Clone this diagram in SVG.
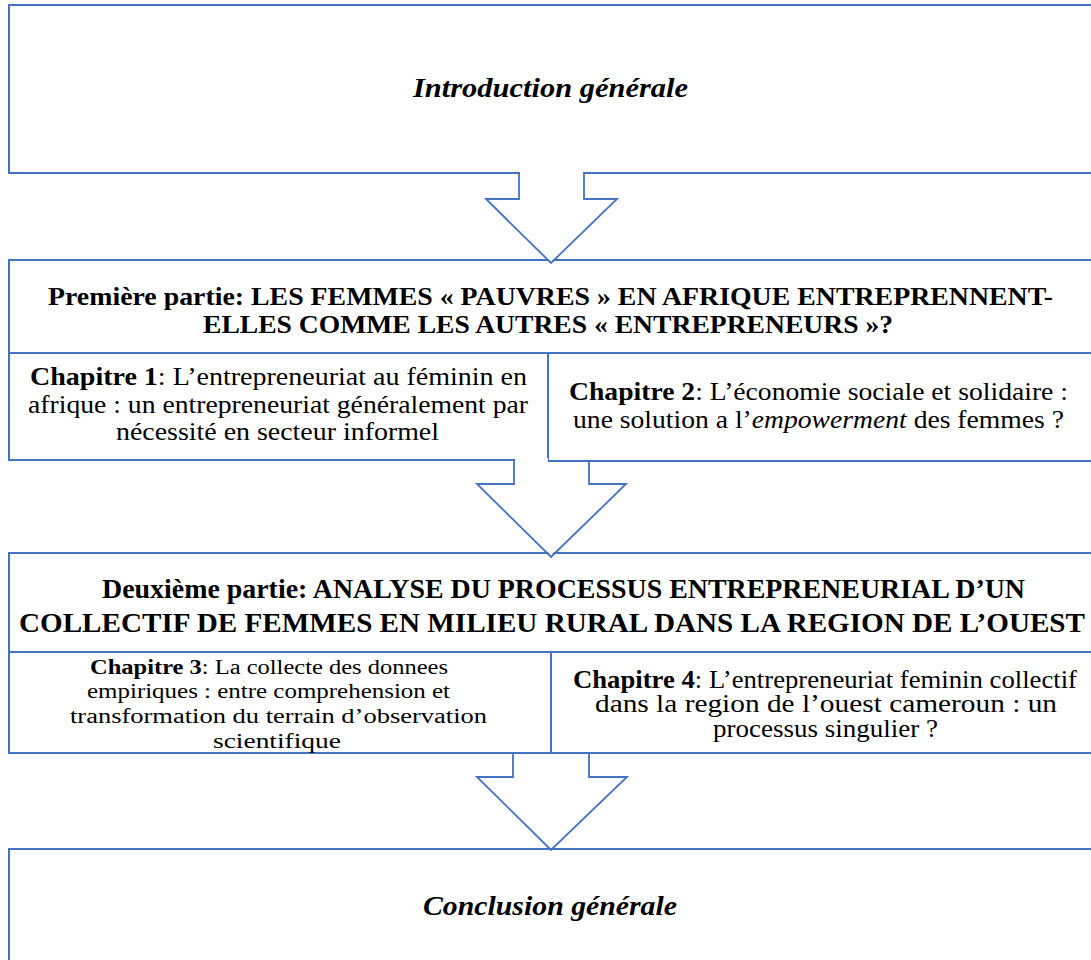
<svg xmlns="http://www.w3.org/2000/svg" width="1091" height="960" viewBox="0 0 1091 960">
<style>
.box{fill:#fff;stroke:#4472C4;stroke-width:2}
.arr{fill:none;stroke:#4472C4;stroke-width:1.8;stroke-linejoin:miter}
.cover{fill:#fff;stroke:none}
text{font-family:"Liberation Serif","Times New Roman",serif;fill:#000;text-anchor:middle}
.t{font-size:25px}
.c3{font-size:20px}
.h{font-size:26px;font-weight:bold}
.h2{font-size:28px;font-weight:bold}
.big{font-size:27px;font-weight:bold;font-style:italic}
.b{font-weight:bold}
.i{font-style:italic}
</style>
<rect width="1091" height="960" fill="#fff"/>

<g id="intro">
<rect class="box" x="9" y="5" width="1100" height="168"/>
<text class="big" x="550.5" y="97" textLength="275" lengthAdjust="spacingAndGlyphs">Introduction générale</text>
</g>

<g id="partie1">
<rect class="box" x="9" y="260" width="1100" height="93"/>
<text class="h" x="550.5" y="305" textLength="1005" lengthAdjust="spacingAndGlyphs">Première partie: LES FEMMES « PAUVRES » EN AFRIQUE ENTREPRENNENT-</text>
<text class="h" x="548" y="333" textLength="690" lengthAdjust="spacingAndGlyphs">ELLES COMME LES AUTRES « ENTREPRENEURS »?</text>
</g>

<g id="chapitre1">
<rect class="box" x="9" y="353" width="539" height="107"/>
<text class="t" x="278.5" y="385" textLength="497" lengthAdjust="spacingAndGlyphs"><tspan class="b">Chapitre 1</tspan>: L’entrepreneuriat au féminin en</text>
<text class="t" x="278" y="413" textLength="500" lengthAdjust="spacingAndGlyphs">afrique : un entrepreneuriat généralement par</text>
<text class="t" x="277.5" y="440" textLength="323" lengthAdjust="spacingAndGlyphs">nécessité en secteur informel</text>
</g>

<g id="chapitre2">
<rect class="box" x="548" y="353" width="560" height="108"/>
<text class="t" x="818.5" y="400" textLength="499" lengthAdjust="spacingAndGlyphs"><tspan class="b">Chapitre 2</tspan>: L’économie sociale et solidaire :</text>
<text class="t" x="818.5" y="428" textLength="491" lengthAdjust="spacingAndGlyphs">une solution a l’<tspan class="i">empowerment</tspan> des femmes ?</text>
</g>

<g id="partie2">
<rect class="box" x="9" y="553" width="1100" height="99"/>
<text class="h2" x="563.5" y="598" textLength="923" lengthAdjust="spacingAndGlyphs">Deuxième partie: ANALYSE DU PROCESSUS ENTREPRENEURIAL D’UN</text>
<text class="h2" x="552" y="632" textLength="1066" lengthAdjust="spacingAndGlyphs">COLLECTIF DE FEMMES EN MILIEU RURAL DANS LA REGION DE L’OUEST</text>
</g>

<g id="chapitre3">
<rect class="box" x="9" y="652" width="542" height="101"/>
<text class="c3" x="269" y="674" textLength="358" lengthAdjust="spacingAndGlyphs"><tspan class="b">Chapitre 3</tspan>: La collecte des donnees</text>
<text class="c3" x="268.5" y="698" textLength="363" lengthAdjust="spacingAndGlyphs">empiriques : entre comprehension et</text>
<text class="c3" x="278.5" y="723" textLength="417" lengthAdjust="spacingAndGlyphs">transformation du terrain d’observation</text>
<text class="c3" x="277" y="748" textLength="128" lengthAdjust="spacingAndGlyphs">scientifique</text>
</g>

<g id="chapitre4">
<rect class="box" x="551" y="652" width="560" height="101"/>
<text class="t" x="825" y="688" textLength="504" lengthAdjust="spacingAndGlyphs"><tspan class="b">Chapitre 4</tspan>: L’entrepreneuriat feminin collectif</text>
<text class="t" x="826" y="712" textLength="462" lengthAdjust="spacingAndGlyphs">dans la region de l’ouest cameroun : un</text>
<text class="t" x="825.5" y="737" textLength="225" lengthAdjust="spacingAndGlyphs">processus singulier ?</text>
</g>

<g id="conclusion">
<rect class="box" x="9" y="849" width="1100" height="130"/>
<text class="big" x="550" y="915" textLength="254" lengthAdjust="spacingAndGlyphs">Conclusion générale</text>
</g>

<g id="connectors">
<polygon class="cover" points="520,171 520,199 487,199 551,262 616,199 583,199 583,171"/>
<polyline class="arr" points="519,173 519,199 486,199 551,263 617,199 584,199 584,173"/>
<polygon class="cover" points="515,458 515,484 478,484 551,555 625,484 548,484 548,458"/>
<polyline class="arr" points="514,460 514,484 477,484 551,557 626,484 589,484 589,461"/>
<polygon class="cover" points="514,755 514,777 478,777 551,848 626,777 589,777 589,755"/>
<polyline class="arr" points="513,753 513,777 477,777 551,850 627,777 589,777 589,753"/>
</g>
</svg>
